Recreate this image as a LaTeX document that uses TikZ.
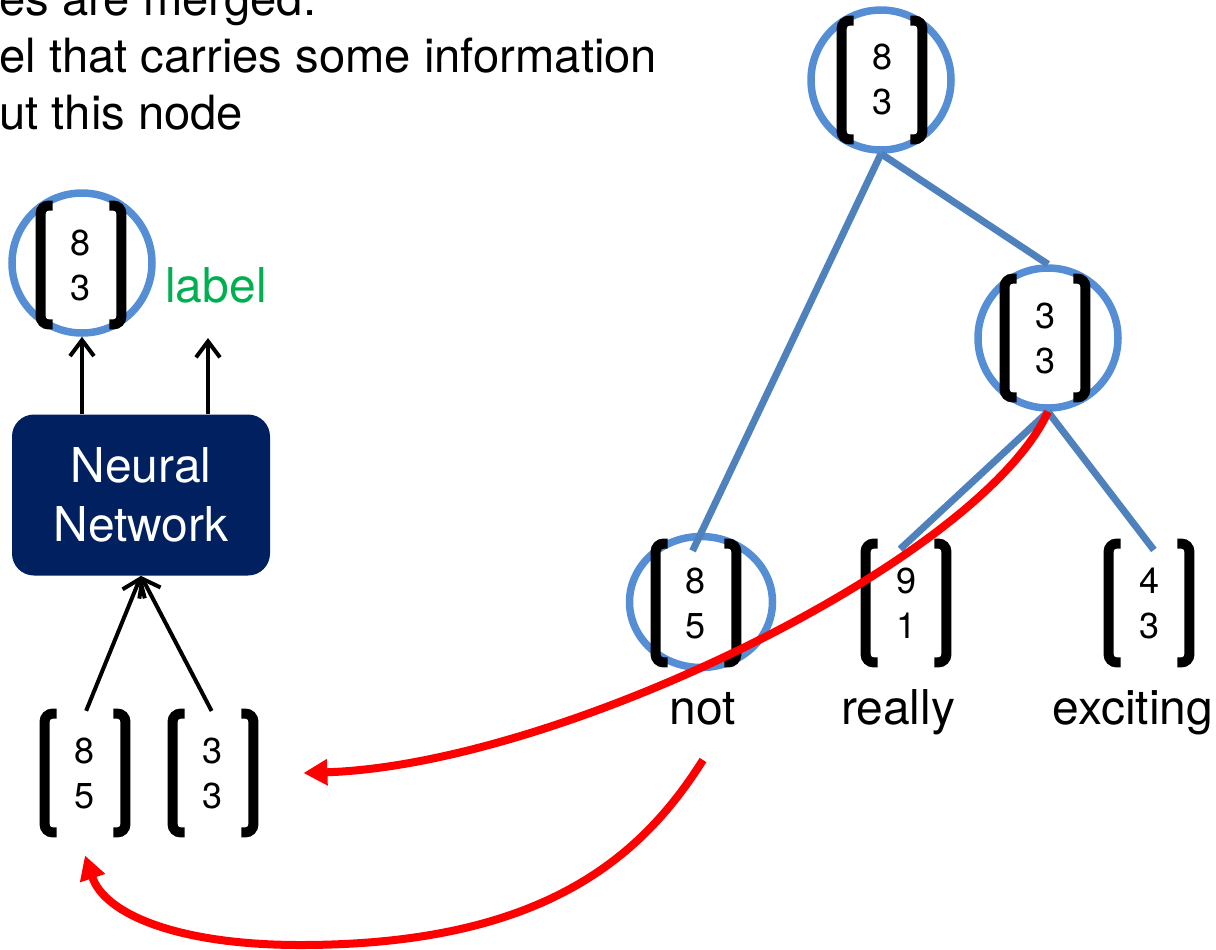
\documentclass[tikz,border=0pt]{standalone}
\usepackage{fontspec}
\setmainfont{TeX Gyre Heros}
\usetikzlibrary{arrows.meta,shapes.geometric}

\definecolor{ringblue}{RGB}{86,142,213}
\definecolor{edgeblue}{RGB}{79,129,189}
\definecolor{nnnavy}{RGB}{0,32,96}
\definecolor{lblgreen}{RGB}{0,176,80}

\tikzset{
  vec/.style={inner sep=0pt, minimum width=40pt, minimum height=59pt, align=center, font=\fontsize{18}{22.5}\selectfont},
  brk/.style={line width=5pt, rounded corners=4pt},
  ring/.style={draw=ringblue, line width=3.75pt, circle, minimum size=70pt, inner sep=0pt},
  word/.style={font=\fontsize{24}{28}\selectfont, anchor=base, inner sep=0pt},
  nnbox/.style={fill=nnnavy, rounded corners=11pt, minimum width=129pt, minimum height=80.5pt, text=white, align=center, font=\fontsize{24}{29.5}\selectfont},
  uparr/.style={line width=2pt, -{Straight Barb[length=8pt,width=12pt]}},
  treeedge/.style={draw=edgeblue, line width=3.5pt},
  redarr/.style={draw=red, line width=4pt, -{Triangle[length=12pt,width=12.5pt]}}
}

% column vector: name, position, top entry, bottom entry
\newcommand{\colvec}[4]{
  \node[vec] (#1) at (#2) {#3\\#4};
  \draw[brk] ([xshift=6pt]#1.north west) -- (#1.north west) -- (#1.south west) -- ([xshift=6pt]#1.south west);
  \draw[brk] ([xshift=-6pt]#1.north east) -- (#1.north east) -- (#1.south east) -- ([xshift=-6pt]#1.south east);
}

\begin{document}
\begin{tikzpicture}[x=0.5pt,y=-0.5pt]
  \useasboundingbox (0,0) rectangle (1216,949);

  \node[word, anchor=base west, font=\fontsize{23.6}{28}\selectfont] (t1) at (-1,15) {es are merged.};
  \node[word, anchor=base west, font=\fontsize{23.6}{28}\selectfont] (t2) at (-1,72) {el that carries some information};
  \node[word, anchor=base west, font=\fontsize{23.6}{28}\selectfont] (t3) at (-1,129) {ut this node};

  % left part
  \node[ring] (r0) at (82,263) {};
  \colvec{p0}{81,265}{8}{3}
  \node[word, text=lblgreen] (lbl) at (216,302) {label};
  \node[nnbox] (nn) at (141,495) {Neural\\Network};
  \coordinate (lblend) at (208,338);
  \draw[uparr] (nn.north -| r0.south) -- (r0.south);
  \draw[uparr] (nn.north -| lblend) -- (lblend);

  \colvec{va}{85,773}{8}{5}
  \colvec{vb}{213,773}{3}{3}
  \draw[uparr, shorten <=1.5pt] (va.north) -- (nn.south);
  \draw[uparr, shorten <=1.5pt] (vb.north) -- (nn.south);

  % tree
  \node[ring] (rt) at (881,80) {};
  \node[ring] (r33) at (1048,338) {};
  \node[ring, ellipse, minimum width=71.5pt, minimum height=65.5pt] (rnot) at (701,602) {};

  \colvec{vt}{882,80}{8}{3}
  \colvec{v33}{1045,338}{3}{3}
  \colvec{vnot}{696,603}{8}{5}
  \colvec{vreally}{906,603}{9}{1}
  \colvec{vexc}{1149,603}{4}{3}

  \node[word] (wnot) at (703,724) {not};
  \node[word] (wreally) at (898,724) {really};
  \node[word] (wexc) at (1133,724) {exciting};

  \draw[treeedge, shorten >=-4pt] (rt.south) -- (vnot.north);
  \draw[treeedge] (rt.south) -- (r33.north);
  \foreach \c in {vreally, vexc}
    \draw[treeedge, shorten >=-4pt] (r33.south) -- (\c.north);

  % red arrows
  \coordinate (notbelow) at (703,760);
  \draw[redarr] (r33.south) .. controls (980,560) and (560,765) .. ([xshift=25pt]vb.east);
  \draw[redarr] (notbelow) .. controls (640,860) and (540,945) .. (300,945)
    .. controls (180,945) and (105,915) .. ([yshift=-11.5pt]va.south);
\end{tikzpicture}
\end{document}
